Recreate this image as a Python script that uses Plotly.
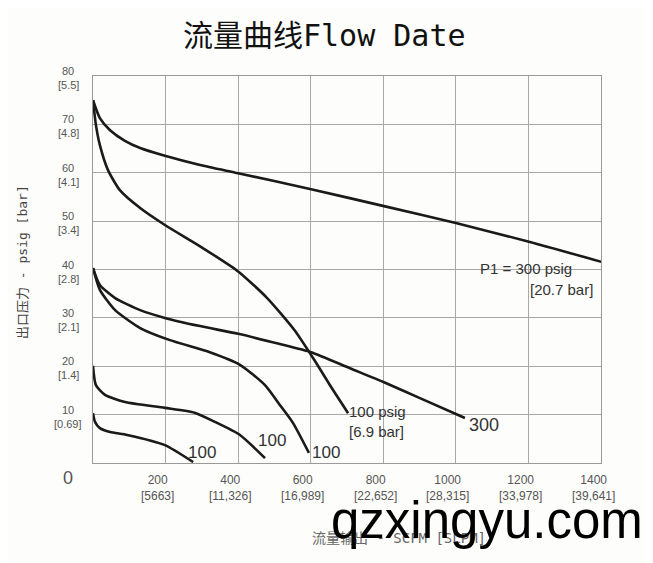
import plotly.graph_objects as go

# ---- data (flow SCFM, outlet pressure psig) ----
p300_flow = [0, 19, 47, 88, 130, 198, 295, 400, 601, 802, 1000, 1204, 1405]
p300_pres = [75.0, 71.3, 68.8, 66.6, 65.1, 63.5, 61.6, 59.9, 56.6, 53.1, 49.6, 45.7, 41.5]

p100_flow = [0, 8, 19, 41, 74, 130, 198, 295, 400, 480, 555, 610, 658, 703]
p100_pres = [75.0, 69.9, 65.7, 60.6, 56.4, 52.7, 49.2, 44.8, 39.6, 34.1, 27.5, 21.3, 15.5, 10.3]

c40_300_flow = [0, 19, 61, 130, 198, 295, 400, 515, 601, 708, 802, 901, 1025]
c40_300_pres = [40.3, 36.8, 34.1, 31.6, 30.0, 28.3, 26.7, 24.6, 22.9, 19.6, 16.7, 13.4, 9.3]

c40_100_flow = [0, 19, 61, 130, 212, 322, 405, 474, 515, 551, 595]
c40_100_pres = [40.3, 35.8, 31.6, 27.9, 25.4, 22.9, 20.3, 16.1, 12.0, 8.3, 2.1]

c20_100_flow = [0, 8, 33, 88, 198, 280, 336, 405, 474]
c20_100_pres = [20.1, 16.1, 14.1, 12.6, 11.4, 10.4, 8.5, 5.8, 1.0]

c10_100_flow = [0, 5.5, 19, 47, 94, 198, 276]
c10_100_pres = [10.3, 8.5, 7.2, 6.4, 5.8, 3.7, 0.2]

x_ticks = [200, 400, 600, 800, 1000, 1200, 1400]
x_tick_sub = ["[5663]", "[11,326]", "[16,989]", "[22,652]", "[28,315]", "[33,978]", "[39,641]"]
y_ticks = [80, 70, 60, 50, 40, 30, 20, 10]
y_tick_sub = ["[5.5]", "[4.8]", "[4.1]", "[3.4]", "[2.8]", "[2.1]", "[1.4]", "[0.69]"]

title_text = "流量曲线Flow Date"
y_title = "出口压力 - psig [bar]"
x_title = "流量输出 - SCFM [SLPM]"
watermark = "qzxingyu.com"

# ---- layout geometry (window pixels; page body has an 8px margin) ----
OFF = 8
L, R, T, B = 93, 601, 76, 463
W, H = 653, 563

def px_x(p):
    return (p - L) / (R - L)

def px_y(p):
    return (B - p) / (B - T)

fig = go.Figure()
line_style = dict(color="#1a1a1a", width=2.6, shape="spline", smoothing=0.6)
for fx, fy in [(p300_flow, p300_pres), (p100_flow, p100_pres), (c40_300_flow, c40_300_pres),
               (c40_100_flow, c40_100_pres), (c20_100_flow, c20_100_pres), (c10_100_flow, c10_100_pres)]:
    fig.add_trace(go.Scatter(x=fx, y=fy, mode="lines", line=line_style,
                             hoverinfo="skip", showlegend=False))

ann = []
tick_font = dict(family="Liberation Sans Narrow, Liberation Sans, Arial", size=12, color="#555")
ytick_font = dict(tick_font, size=11)
for v, s in zip(x_ticks, x_tick_sub):
    ann.append(dict(x=v, y=0, xref="x", yref="paper", text=f"{v}<br>{s}", showarrow=False,
                    xanchor="center", yanchor="middle", xshift=-8, yshift=-25, font=tick_font,
                    align="center"))
for v, s in zip(y_ticks, y_tick_sub):
    ann.append(dict(x=px_x(68), y=v, xref="paper", yref="y", text=str(v), showarrow=False,
                    xanchor="center", yanchor="middle", yshift=5, borderpad=0, font=ytick_font))
    ann.append(dict(x=px_x(68), y=v, xref="paper", yref="y", text=s, showarrow=False,
                    xanchor="center", yanchor="middle", yshift=-9, borderpad=0, font=ytick_font))
ann.append(dict(x=px_x(68), y=0, xref="paper", yref="y", text="0", showarrow=False,
                xanchor="center", yanchor="middle", yshift=-15,
                font=dict(family="Liberation Sans", size=18, color="#555")))

ann.append(dict(x=px_x(324), y=px_y(35), xref="paper", yref="paper", text=title_text,
                showarrow=False, xanchor="center", yanchor="middle",
                font=dict(family="DejaVu Sans Mono, Noto Sans CJK SC", size=30, color="#111")))
ann.append(dict(x=px_x(22), y=px_y(262), xref="paper", yref="paper", text=y_title,
                showarrow=False, xanchor="center", yanchor="middle", textangle=-90,
                font=dict(family="DejaVu Sans Mono, Noto Sans CJK SC", size=13, color="#444")))
ann.append(dict(x=px_x(399), y=px_y(538), xref="paper", yref="paper", text=x_title,
                showarrow=False, xanchor="center", yanchor="middle",
                font=dict(family="DejaVu Sans Mono, Noto Sans CJK SC", size=14, color="#666")))

lab_font = dict(family="Liberation Sans Narrow, Liberation Sans, Arial", size=15, color="#333")
ann.append(dict(x=700, y=8.5, xref="x", yref="y", text="100 psig<br>[6.9 bar]", showarrow=False,
                xanchor="left", yanchor="middle", align="left", font=lab_font))
ann.append(dict(x=1031, y=7.9, xref="x", yref="y", text="300", showarrow=False,
                xanchor="left", yanchor="middle", font=dict(lab_font, size=18)))
ann.append(dict(x=1061, y=40.3, xref="x", yref="y", text="P1 = 300 psig", showarrow=False,
                xanchor="left", yanchor="middle", font=dict(lab_font, size=15)))
ann.append(dict(x=1199, y=35.8, xref="x", yref="y", text="[20.7 bar]", showarrow=False,
                xanchor="left", yanchor="middle", font=dict(lab_font, size=15)))
for lx, ly in [(256, 2.1), (449, 4.75), (598, 2.1)]:
    ann.append(dict(x=lx, y=ly, xref="x", yref="y", text="100", showarrow=False,
                    xanchor="left", yanchor="middle", font=dict(lab_font, size=17)))

ann.append(dict(x=px_x(487), y=px_y(520), xref="paper", yref="paper", text=watermark,
                showarrow=False, xanchor="center", yanchor="middle",
                font=dict(family="Liberation Sans, Arial", size=51, color="#000")))

axis_common = dict(showline=True, linecolor="#9a9a9a", linewidth=1.2, mirror=True,
                   showgrid=True, gridcolor="#a8a8a8", gridwidth=1, zeroline=False,
                   showticklabels=False, ticks="")
fig.update_layout(
    width=W, height=H,
    margin=dict(l=L - OFF, r=W + OFF - R, t=T - OFF, b=H + OFF - B),
    paper_bgcolor="#fdfdfb", plot_bgcolor="#fdfdfb",
    xaxis=dict(range=[0, 1400], tickvals=[200, 400, 600, 800, 1000, 1200], **axis_common),
    yaxis=dict(range=[0, 80], tickvals=[10, 20, 30, 40, 50, 60, 70], **axis_common),
    annotations=ann,
    showlegend=False,
)

fig.write_html("out.html")
